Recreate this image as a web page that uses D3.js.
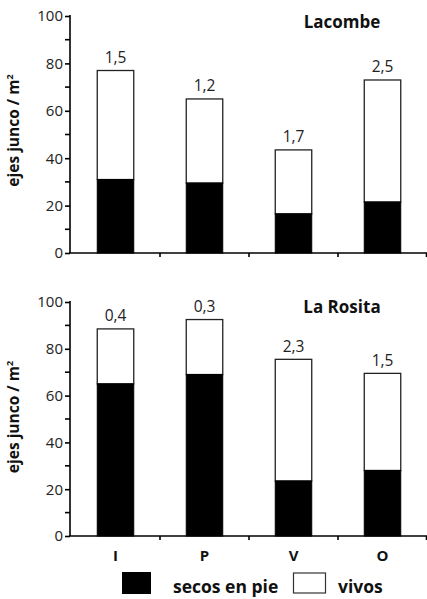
<!DOCTYPE html>
<html><head><meta charset="utf-8">
<script src="https://cdn.jsdelivr.net/npm/d3@7"></script>
<style>body{margin:0;background:#fff}svg{display:block;font-family:"Open Sans",sans-serif}</style>
</head><body>
<script>
const categories = ["I","P","V","O"];
const sites = ["Lacombe","La Rosita"];
const secosLacombe = [31,29.5,16.5,21.5];
const totalLacombe = [77,65,43.5,73];
const ratioLacombe = ["1,5","1,2","1,7","2,5"];
const secosRosita = [65,69,23.5,28];
const totalRosita = [88.5,92.5,75.5,69.5];
const ratioRosita = ["0,4","0,3","2,3","1,5"];
const yTicks = [0,20,40,60,80,100];
const yMinor = [10,30,50,70,90];
const legendLabels = ["secos en pie","vivos"];
const yLabel = "ejes junco / m";

const W=427,H=599;
const svg=d3.select("body").append("svg").attr("width",W).attr("height",H);
const x=d3.scaleBand().domain(categories).range([71,427]).padding(0);
const bw=x.bandwidth()*0.41;

const panels=[
 {name:sites[0],secos:secosLacombe,total:totalLacombe,ratio:ratioLacombe,y0:253,y1:16,titleY:28,lab:-4},
 {name:sites[1],secos:secosRosita,total:totalRosita,ratio:ratioRosita,y0:536,y1:302,titleY:313,lab:-2}
];

panels.forEach((p,pi)=>{
  const y=d3.scaleLinear().domain([0,100]).range([p.y0,p.y1]);
  const g=svg.append("g");
  categories.forEach((c,i)=>{
    const cx=x(c)+x.bandwidth()/2;
    g.append("rect").attr("x",cx-bw/2).attr("y",y(p.total[i])).attr("width",bw)
      .attr("height",y(p.secos[i])-y(p.total[i])).attr("fill","#fff").attr("stroke","#222").attr("stroke-width",1.3);
    g.append("rect").attr("x",cx-bw/2).attr("y",y(p.secos[i])).attr("width",bw)
      .attr("height",y(0)-y(p.secos[i])).attr("fill","#000").attr("stroke","#000").attr("stroke-width",1);
    g.append("text").attr("x",cx).attr("y",y(p.total[i])-7.5).attr("text-anchor","middle")
      .attr("font-size",15.5).attr("fill","#222").text(p.ratio[i]);
  });
  const ya=g.append("g").attr("transform","translate(70,0)")
    .call(d3.axisLeft(y).tickValues(yTicks).tickSize(5).tickPadding(2).tickFormat(d3.format("d")));
  ya.select(".domain").attr("stroke","#000").attr("stroke-width",1.6).attr("d",`M0,${p.y1-1}V${p.y0}`);
  ya.selectAll(".tick line").attr("stroke-width",1.6);
  ya.selectAll(".tick text").attr("font-size",15).attr("fill","#222").attr("font-family","Open Sans");
  yMinor.forEach(v=>g.append("line").attr("x1",65).attr("x2",70).attr("y1",y(v)).attr("y2",y(v)).attr("stroke","#000").attr("stroke-width",1.6));
  g.append("line").attr("x1",69).attr("x2",427).attr("y1",y(0)).attr("y2",y(0)).attr("stroke","#000").attr("stroke-width",1.6);
  categories.slice(1).concat(["end"]).forEach(c=>{
    const xv = c==="end"? x.range()[1]-0.5 : x(c);
    g.append("line").attr("x1",xv).attr("x2",xv).attr("y1",y(0)).attr("y2",y(0)+4).attr("stroke","#000").attr("stroke-width",1.6);
  });
  g.append("text").attr("x",342).attr("y",p.titleY).attr("text-anchor","middle").attr("font-size",17)
    .attr("font-weight","bold").attr("fill","#111").text(p.name);
  const cy=(p.y0+p.y1)/2 + p.lab;
  const t=g.append("text").attr("transform",`translate(19,${cy}) rotate(-90)`).attr("text-anchor","middle")
    .attr("font-size",15.5).attr("font-weight","bold").attr("fill","#111");
  t.append("tspan").text(yLabel);
  t.append("tspan").attr("font-size",9).attr("dy",-6).text("2");
});

categories.forEach(c=>{
  svg.append("text").attr("x",x(c)+x.bandwidth()/2).attr("y",561).attr("text-anchor","middle")
    .attr("font-size",15).attr("font-weight","bold").attr("fill","#111").text(c);
});

svg.append("rect").attr("x",122).attr("y",572).attr("width",29).attr("height",22).attr("fill","#000");
svg.append("text").attr("x",173).attr("y",593).attr("font-size",17.5).attr("font-weight","bold").attr("fill","#111").text(legendLabels[0]);
svg.append("rect").attr("x",293.5).attr("y",573).attr("width",32).attr("height",20).attr("fill","#fff").attr("stroke","#333").attr("stroke-width",1.2);
svg.append("text").attr("x",338).attr("y",593).attr("font-size",17.5).attr("font-weight","bold").attr("fill","#111").text(legendLabels[1]);
</script>
</body></html>
